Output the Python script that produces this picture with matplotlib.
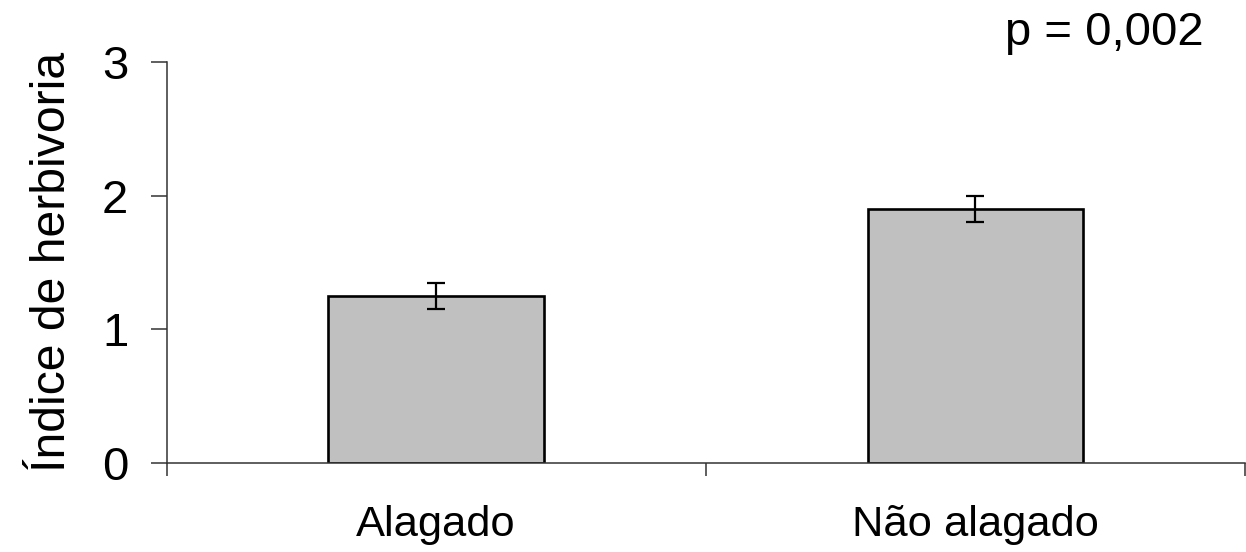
import matplotlib
matplotlib.use("Agg")
import matplotlib.pyplot as plt
import numpy as np

categories = ["Alagado", "Não alagado"]
values = [1.25, 1.90]
errors = [0.10, 0.10]
yticks = [0, 1, 2, 3]
ylabel = "Índice de herbivoria"
ptext = "p = 0,002"

plt.rcParams['font.family'] = ['Liberation Sans', 'DejaVu Sans']

W, H, DPI = 1246, 552, 100
fig = plt.figure(figsize=(W / DPI, H / DPI), dpi=DPI)
ax = fig.add_axes([166.5 / W, 1 - 463.3 / H, (1245 - 166.5) / W, (463.3 - 61.7) / H])

x = np.arange(len(categories)) + 0.5
ax.bar(x, values, width=0.4, color='#C0C0C0', edgecolor='black', linewidth=1.9, zorder=2)
ax.errorbar(x, values, yerr=errors, fmt='none', ecolor='black', elinewidth=1.6,
            capsize=6.2, capthick=1.6, zorder=3)

ax.set_xlim(0, len(categories))
ax.set_ylim(0, 3)
for s in ['top', 'right']:
    ax.spines[s].set_visible(False)
for s in ['left', 'bottom']:
    ax.spines[s].set_color('#333333')
    ax.spines[s].set_linewidth(1.1)

ax.set_yticks(yticks)
ax.set_yticklabels([str(t) for t in yticks], fontsize=34)
ax.tick_params(axis='y', direction='out', length=11.5, width=1.1, color='#333333', pad=16)

ax.set_xticks(np.arange(len(categories) + 1))
ax.set_xticklabels([])
ax.tick_params(axis='x', which='major', direction='out', length=9.4, width=1.1, color='#333333')
ax.set_xticks(x, minor=True)
ax.set_xticklabels(categories, minor=True, fontsize=31.3)
ax.tick_params(axis='x', which='minor', length=0, pad=30)

fig.text(53 / W, 1 - 262 / H, ylabel, rotation=90, ha='center', va='center', fontsize=34.7)
fig.text(1005 / W, 1 - 45 / H, ptext, ha='left', va='baseline', fontsize=34)

fig.savefig("out.png", dpi=DPI)
